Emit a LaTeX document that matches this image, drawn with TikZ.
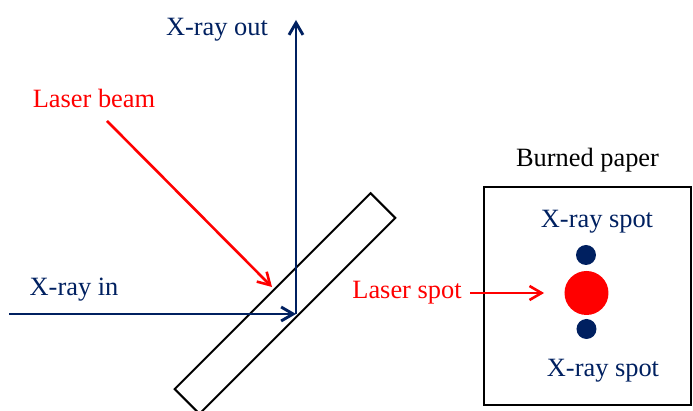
\documentclass[tikz,border=0pt]{standalone}
\usepackage{fontspec}
\setmainfont{Liberation Serif}
\usetikzlibrary{arrows.meta, positioning}
\definecolor{navy}{HTML}{002060}

\begin{document}
\begin{tikzpicture}[
    x=0.5pt, y=-0.5pt,
    txt/.style={font=\fontsize{13.2}{15}\selectfont, inner sep=0pt},
    xray/.style={draw=navy, line width=1.45pt, -{Straight Barb[length=6pt, width=7pt]}},
    laser/.style={draw=red, line width=1.3pt, -{Straight Barb[length=6pt, width=7pt]}},
    dot/.style={circle, fill=navy, minimum size=10pt, inner sep=0pt},
    box/.style={draw=black, line width=1.2pt, inner sep=0pt}
]
\useasboundingbox (0,0) rectangle (693,411);

% Mirror
\node[box, line width=1pt, rotate=45, minimum width=138.5pt, minimum height=17.5pt] (mirror) at (285,303.5) {};

% X-ray path
\coordinate (xin) at (9,314);
\coordinate (hit) at (296,314);
\coordinate (xout) at (296,20);
\draw[xray] (xin) -- (hit);
\draw[xray] (hit) -- (xout);
\node[txt, text=navy] (inlabel) at (74,290) {X-ray in};
\node[txt, text=navy] (outlabel) at (217,30) {X-ray out};

% Laser beam
\node[txt, text=red] (beamlabel) at (94,98) {Laser beam};
\coordinate (beam) at (107,121);
\coordinate (beamhit) at (272,287);
\draw[laser] (beam) -- (beamhit);

% Burned paper
\node[box, minimum width=103.5pt, minimum height=109pt] (paper) at (587.5,296) {};
\node[txt] (paperlabel) at (587.5,160) {Burned paper};
\node[dot] (upspot) at (586,255) {};
\node[circle, fill=red, minimum size=22pt, inner sep=0pt] (redspot) at (586.5,293) {};
\node[dot] (lowspot) at (586.5,329) {};
\node[txt, text=navy] (uplabel) at (597,222) {X-ray spot};
\node[txt, text=navy] (lowlabel) at (603,371) {X-ray spot};
\node[txt, text=red] (spotlabel) at (407,293) {Laser spot};
\draw[laser, shorten <=4pt, shorten >=10pt] (spotlabel.east) -- (redspot.west);

\end{tikzpicture}
\end{document}
